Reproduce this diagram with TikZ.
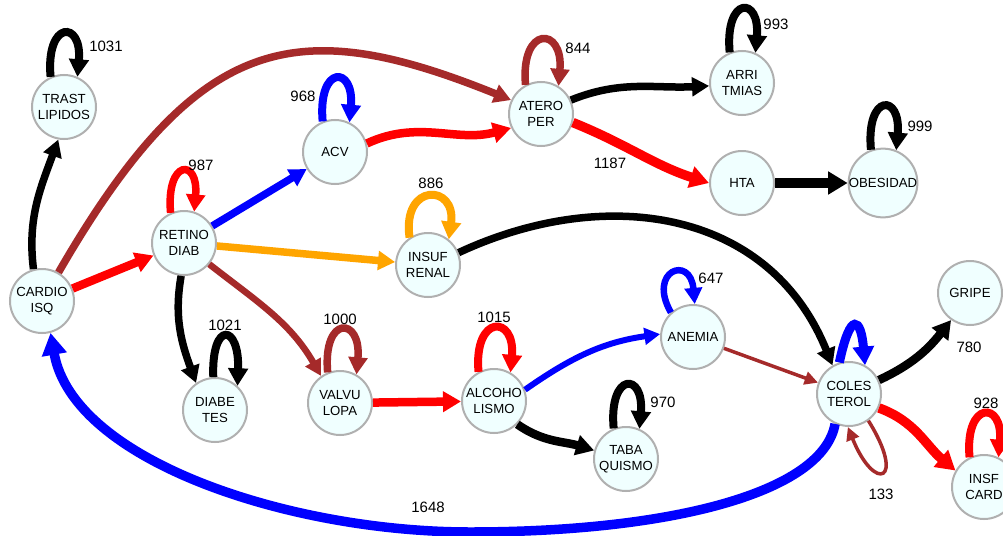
\documentclass[tikz,border=0pt]{standalone}
\usepackage{fontspec}
\setmainfont{Liberation Sans}
\usetikzlibrary{arrows.meta}
\definecolor{nodefill}{HTML}{F0FFFF}
\definecolor{nodeborder}{HTML}{B0B0B0}
\definecolor{brownc}{HTML}{A52A2A}
\definecolor{orangec}{HTML}{FFA500}
\definecolor{redc}{HTML}{FF0000}
\definecolor{bluec}{HTML}{0000FF}
\begin{document}
\begin{tikzpicture}[x=1pt,y=1pt,
  nd/.style={circle, draw=nodeborder, line width=2pt, fill=nodefill, minimum size=64pt, inner sep=0pt, align=center, font=\fontsize{13.2}{16}\selectfont},
  lbl/.style={font=\fontsize{15}{18}\selectfont, inner sep=0pt},
  ed/.style 2 args={draw=#1, line width=#2, -{Triangle[length=10pt 0.95, width=8pt 1.4]}},
]
\useasboundingbox (0,0) rectangle (1003,-535);
\fill[white] (0,0) rectangle (1003,-535);

% nodes
\node[nd] (TRAST) at (64,-107) {TRAST\\LIPIDOS};
\node[nd] (CARD)  at (42,-301) {CARDIO\\ISQ};
\node[nd] (RET)   at (184,-243) {RETINO\\DIAB};
\node[nd] (ACV)   at (335,-152) {ACV};
\node[nd] (ATERO) at (541,-114) {ATERO\\PER};
\node[nd] (ARRI)  at (742,-83) {ARRI\\TMIAS};
\node[nd] (HTA)   at (742,-183) {HTA};
\node[nd] (OBES)  at (883,-183) {OBESIDAD};
\node[nd] (INS)   at (428,-265) {INSUF\\RENAL};
\node[nd] (DIAB)  at (215,-410) {DIABE\\TES};
\node[nd] (VAL)   at (340,-403) {VALVU\\LOPA};
\node[nd] (ALC)   at (494,-401) {ALCOHO\\LISMO};
\node[nd] (ANE)   at (693,-337) {ANEMIA};
\node[nd] (TABA)  at (626,-459) {TABA\\QUISMO};
\node[nd] (COL)   at (849,-394) {COLES\\TEROL};
\node[nd] (GRIPE) at (970,-293) {GRIPE};
\node[nd] (INSF)  at (984,-487) {INSF\\CARD};

\coordinate (bm) at (470,-532);

% edges
\draw[ed={black}{7.5pt}] (CARD.105) to[out=97,in=-110] (TRAST.-100);
\draw[ed={brownc}{7.5pt}] (CARD.60) .. controls +(60:280) and +(158:230) .. (ATERO.155);
\draw[ed={redc}{8.5pt}] (CARD) -- (RET);
\draw[ed={bluec}{7.5pt}] (RET) -- (ACV);
\draw[ed={orangec}{7.5pt}] (RET) -- (INS);
\draw[ed={black}{7.5pt}] (RET.-95) to[out=-100,in=110] (DIAB.125);
\draw[ed={brownc}{6.5pt}] (RET.-40) to[out=-38,in=120] (VAL.125);
\draw[ed={redc}{8.5pt}] (ACV.15) to[out=25,in=195] (ATERO.205);
\draw[ed={black}{7.5pt}] (ATERO.25) to[out=22,in=183] (ARRI.185);
\draw[ed={redc}{9.5pt}] (ATERO.-15) to[out=-22,in=162] (HTA.180);
\draw[ed={black}{10pt}] (HTA) -- (OBES);
\draw[ed={black}{7.5pt}] (INS.22) .. controls +(25:160) and +(112:170) .. (COL.120);
\draw[ed={redc}{8.5pt}] (VAL) -- (ALC);
\draw[ed={bluec}{6pt}] (ALC.20) to[out=35,in=188] (ANE.175);
\draw[ed={black}{8.5pt}] (ALC.-45) to[out=-35,in=163] (TABA.165);
\draw[ed={brownc}{3.5pt}] (ANE) -- (COL);
\draw[ed={black}{8.5pt}] (COL.25) to[out=25,in=232] (GRIPE.235);
\draw[ed={redc}{9.5pt}] (COL.-25) to[out=-20,in=140] (INSF.150);
\draw[draw=bluec, line width=9.5pt, -{Triangle[length=22pt,width=24pt]}] (COL.-115) .. controls +(-100:70) and +(0:200) .. (bm) .. controls +(180:180) and +(-80:130) .. (CARD.-75);

% self loops
\draw[ed={black}{8pt}] (TRAST.114) .. controls +(95:57) and +(85:57) .. (TRAST.66);
\draw[ed={redc}{7.5pt}] (RET.114) .. controls +(95:54) and +(85:54) .. (RET.72);
\draw[ed={bluec}{8pt}] (ACV.112) .. controls +(95:57) and +(85:57) .. (ACV.64);
\draw[ed={brownc}{7.5pt}] (ATERO.118) .. controls +(95:60) and +(85:60) .. (ATERO.58);
\draw[ed={black}{8pt}] (ARRI.112) .. controls +(95:57) and +(85:57) .. (ARRI.66);
\draw[ed={black}{8pt}] (OBES.110) .. controls +(95:57) and +(85:57) .. (OBES.68);
\draw[ed={orangec}{8pt}] (INS.124) .. controls +(98:56) and +(82:56) .. (INS.51);
\draw[ed={black}{8pt}] (DIAB.93) .. controls +(92:57) and +(88:62) .. (DIAB.47);
\draw[ed={brownc}{7.5pt}] (VAL.112) .. controls +(95:58) and +(85:58) .. (VAL.60);
\draw[ed={redc}{8pt}] (ALC.118) .. controls +(95:58) and +(85:58) .. (ALC.60);
\draw[ed={black}{8pt}] (TABA.112) .. controls +(95:57) and +(85:57) .. (TABA.66);
\draw[ed={bluec}{6.5pt}] (ANE.132) .. controls +(120:48) and +(95:50) .. (ANE.87);
\draw[ed={bluec}{9pt}] (COL.107) .. controls +(78:54) and +(95:47) .. (COL.61);
\draw[ed={brownc}{3.5pt}] (COL.-54) .. controls +(-58:72) and +(-68:72) .. (COL.-92);
\draw[ed={redc}{8pt}] (INSF.116) .. controls +(95:57) and +(85:57) .. (INSF.64);

% labels
\node[lbl] (l1031) at (106,-46) {1031};
\node[lbl] (l987) at (201,-165) {987};
\node[lbl] (l968) at (303,-96) {968};
\node[lbl] (l844) at (578,-48) {844};
\node[lbl] (l993) at (776,-24) {993};
\node[lbl] (l999) at (920,-126) {999};
\node[lbl] (l1187) at (610,-163) {1187};
\node[lbl] (l886) at (431,-183) {886};
\node[lbl] (l1021) at (225,-325) {1021};
\node[lbl] (l1000) at (340,-319) {1000};
\node[lbl] (l1015) at (494,-317) {1015};
\node[lbl] (l647) at (711,-278) {647};
\node[lbl] (l970) at (663,-402) {970};
\node[lbl] (l780) at (969,-347) {780};
\node[lbl] (l928) at (986,-403) {928};
\node[lbl] (l133) at (881,-494) {133};
\node[lbl] (l1648) at (428,-507) {1648};
\end{tikzpicture}
\end{document}
